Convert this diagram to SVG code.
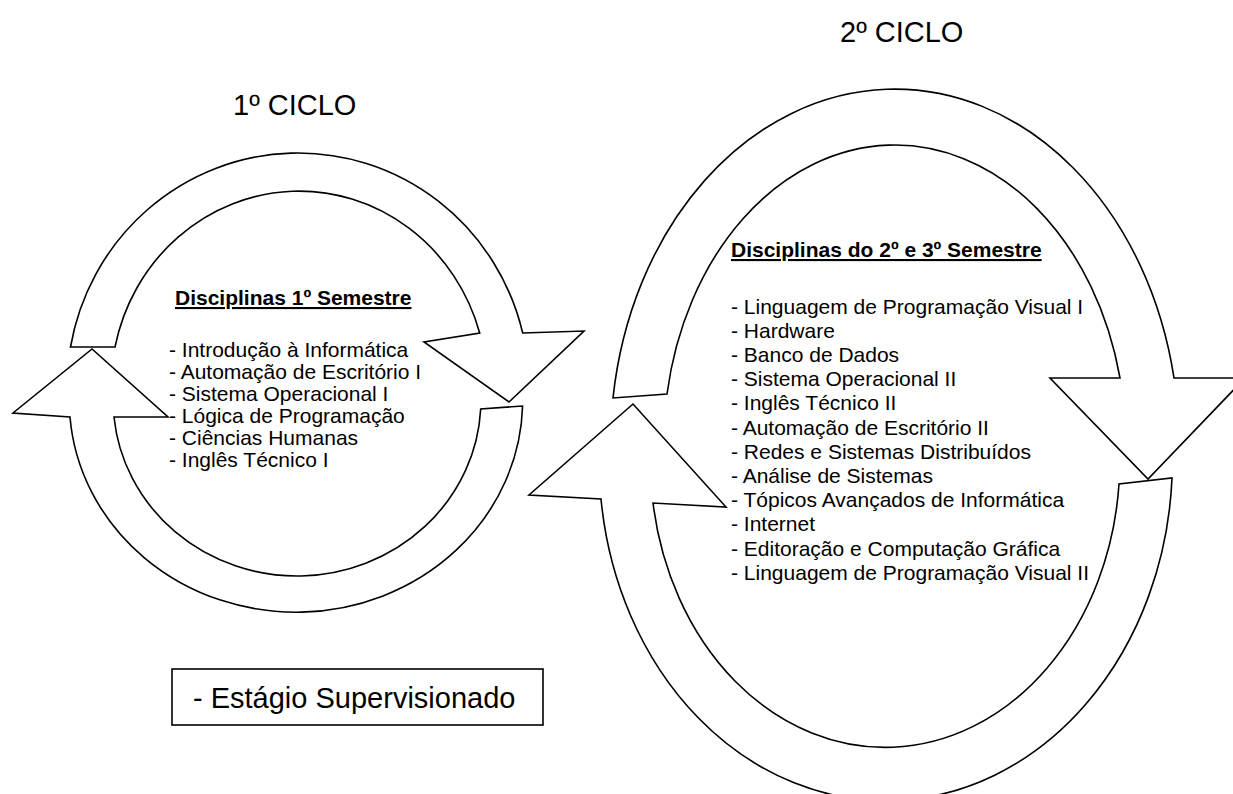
<svg xmlns="http://www.w3.org/2000/svg" width="1233" height="794" viewBox="0 0 1233 794">
<style>
.shape{fill:#fff;stroke:#000;stroke-width:1.6;stroke-linejoin:miter}
.big{font-family:"Liberation Sans",Arial,sans-serif;font-size:29px;fill:#000}
.hd{font-family:"Liberation Sans",Arial,sans-serif;font-size:21px;font-weight:bold;text-decoration:underline;fill:#000}
.it{font-family:"Liberation Sans",Arial,sans-serif;font-size:21px;fill:#000}
</style>
<rect width="1233" height="794" fill="#fff"/>
<g id="connectors">
  <path id="c1-top" class="shape" d="M 70.5,347 A 231 234.5 0 0 1 522.7,333 L 584,331 L 509,402 L 424,342 L 479.7,333 A 188 196 0 0 0 115,347 Z"/>
  <path id="c1-bottom" class="shape" d="M 522.6,406 A 226.7 212 0 0 1 70,417 L 13,413 L 92,349 L 168,417 L 114,417 A 183.9 176 0 0 0 480.7,409 Z"/>
  <path id="c2-top" class="shape" d="M 613,398 A 284.3 356 0 0 1 1174,378 L 1245,378 L 1148,479 L 1050,378 L 1120,378 A 231.1 300 0 0 0 667,394 Z"/>
  <path id="c2-bottom" class="shape" d="M 1172,478 A 286.6 340 0 0 1 601,499 L 529,495 L 633,404 L 726,507 L 653,503 A 234.7 287 0 0 0 1119,484 Z"/>
</g>
<g id="label-ciclo1"><text class="big" x="233" y="115">1º CICLO</text></g>
<g id="label-ciclo2"><text class="big" x="840" y="42">2º CICLO</text></g>
<g id="node-sem1">
  <text class="hd" x="175" y="305">Disciplinas 1º Semestre</text>
  <text class="it" x="169" y="356.5">- Introdução à Informática</text>
  <text class="it" x="169" y="378.5">- Automação de Escritório I</text>
  <text class="it" x="169" y="400.5">- Sistema Operacional I</text>
  <text class="it" x="169" y="422.5">- Lógica de Programação</text>
  <text class="it" x="169" y="444.5">- Ciências Humanas</text>
  <text class="it" x="169" y="466.5">- Inglês Técnico I</text>
</g>
<g id="node-sem23">
  <text class="hd" x="731" y="257">Disciplinas do 2º e 3º Semestre</text>
  <text class="it" x="731" y="313.5">- Linguagem de Programação Visual I</text>
  <text class="it" x="731" y="337.7">- Hardware</text>
  <text class="it" x="731" y="361.9">- Banco de Dados</text>
  <text class="it" x="731" y="386.1">- Sistema Operacional II</text>
  <text class="it" x="731" y="410.3">- Inglês Técnico II</text>
  <text class="it" x="731" y="434.5">- Automação de Escritório II</text>
  <text class="it" x="731" y="458.7">- Redes e Sistemas Distribuídos</text>
  <text class="it" x="731" y="482.9">- Análise de Sistemas</text>
  <text class="it" x="731" y="507.1">- Tópicos Avançados de Informática</text>
  <text class="it" x="731" y="531.3">- Internet</text>
  <text class="it" x="731" y="555.5">- Editoração e Computação Gráfica</text>
  <text class="it" x="731" y="579.7">- Linguagem de Programação Visual II</text>
</g>
<g id="node-estagio">
  <rect class="shape" x="172" y="669" width="371" height="56"/>
  <text class="big" x="193" y="708">- Estágio Supervisionado</text>
</g>
</svg>
